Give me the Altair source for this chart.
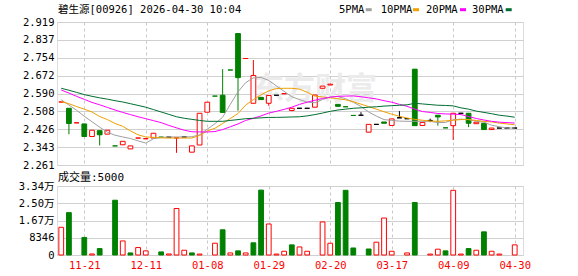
import altair as alt
import pandas as pd

# ---------------- data ----------------
title_text = "碧生源[00926] 2026-04-30 10:04"
vol_title = "成交量:5000"
watermark = "东方财富"

date_labels = ["11-21", "12-11", "01-08", "01-29", "02-20", "03-17", "04-09", "04-30"]
date_pos = [3, 11, 19, 27, 35, 43, 51, 59]

price_ticks = [2.261, 2.343, 2.426, 2.508, 2.590, 2.672, 2.754, 2.837, 2.919]
vol_ticks = [0, 8346, 16692, 25038, 33384]

opens = [2.551, 2.522, 2.455, 2.450, 2.392, 2.419, 2.403, 2.349, 2.354, 2.335,
         2.385, 2.382, 2.385, 2.389, 2.389, 2.386, 2.390, 2.320, 2.353, 2.504,
         2.578, 2.582, 2.698, 2.866, 2.751, 2.545, 2.572, 2.545, 2.582, 2.589,
         2.512, 2.522, 2.522, 2.527, 2.614, 2.629, 2.540, 2.529, 2.489, 2.490,
         2.412, 2.448, 2.459, 2.443, 2.478, 2.474, 2.702, 2.443, 2.466, 2.490,
         2.432, 2.442, 2.499, 2.499, 2.451, 2.453, 2.424, 2.431, 2.431, 2.431]
highs = [2.551, 2.522, 2.455, 2.450, 2.421, 2.419, 2.421, 2.349, 2.370, 2.349,
         2.385, 2.382, 2.407, 2.389, 2.389, 2.386, 2.390, 2.349, 2.499, 2.550,
         2.578, 2.702, 2.698, 2.866, 2.751, 2.744, 2.572, 2.581, 2.582, 2.589,
         2.522, 2.522, 2.522, 2.583, 2.624, 2.633, 2.540, 2.529, 2.489, 2.504,
         2.448, 2.448, 2.459, 2.473, 2.509, 2.474, 2.702, 2.457, 2.474, 2.490,
         2.432, 2.499, 2.499, 2.499, 2.458, 2.453, 2.431, 2.431, 2.431, 2.431]
lows = [2.551, 2.402, 2.455, 2.392, 2.392, 2.351, 2.403, 2.349, 2.354, 2.335,
        2.385, 2.382, 2.385, 2.389, 2.389, 2.317, 2.390, 2.320, 2.353, 2.504,
        2.578, 2.503, 2.698, 2.511, 2.751, 2.545, 2.562, 2.533, 2.582, 2.589,
        2.508, 2.522, 2.522, 2.527, 2.614, 2.629, 2.528, 2.529, 2.489, 2.490,
        2.412, 2.448, 2.453, 2.443, 2.478, 2.474, 2.442, 2.443, 2.458, 2.442,
        2.432, 2.376, 2.499, 2.435, 2.451, 2.424, 2.424, 2.431, 2.431, 2.431]
closes = [2.551, 2.452, 2.455, 2.392, 2.421, 2.400, 2.421, 2.349, 2.370, 2.349,
          2.385, 2.382, 2.407, 2.389, 2.389, 2.386, 2.390, 2.349, 2.499, 2.550,
          2.578, 2.503, 2.698, 2.663, 2.751, 2.673, 2.562, 2.581, 2.582, 2.589,
          2.522, 2.522, 2.522, 2.583, 2.624, 2.633, 2.531, 2.529, 2.489, 2.490,
          2.448, 2.448, 2.453, 2.473, 2.478, 2.474, 2.442, 2.457, 2.466, 2.482,
          2.432, 2.499, 2.499, 2.453, 2.458, 2.424, 2.431, 2.431, 2.431, 2.431]
kinds = ["fr", "dn", "fr", "dn", "up", "dn", "up", "fg", "up", "up",
         "fr", "fr", "up", "fg", "fk", "fr", "fk", "up", "up", "up",
         "fg", "dn", "fg", "dn", "fr", "up", "dn", "up", "fk", "fr",
         "up", "fk", "fk", "up", "up", "up", "dn", "fg", "fg", "fk",
         "up", "fk", "dn", "up", "fk", "fk", "dn", "up", "fk", "dn",
         "fg", "up", "fk", "dn", "up", "dn", "up", "fk", "fk", "fk"]

volumes = [13400, 20500, 0, 8500, 500, 3100, 0, 26500, 6800, 1000,
           3600, 2000, 0, 1500, 500, 22500, 2300, 1000, 450, 0,
           5700, 12200, 1000, 2000, 1000, 5900, 31400, 15000, 450, 1800,
           4900, 3900, 1800, 0, 16000, 5700, 25400, 31300, 3400, 0,
           2900, 6200, 17900, 1800, 0, 1000, 25400, 0, 450, 2800,
           2000, 31300, 450, 3100, 2300, 11200, 1800, 450, 0, 4900]
vol_kinds = ["up", "dn", "up", "dn", "up", "dn", "up", "dn", "up", "dn",
             "up", "up", "up", "dn", "up", "up", "up", "dn", "up", "up",
             "up", "dn", "up", "dn", "up", "dn", "dn", "up", "up", "up",
             "dn", "up", "up", "up", "up", "up", "dn", "dn", "dn", "up",
             "dn", "up", "up", "up", "up", "up", "dn", "up", "up", "up",
             "dn", "up", "up", "dn", "up", "dn", "up", "up", "up", "up"]

ma5 = [2.561, 2.537, 2.513, 2.485, 2.460, 2.435, 2.412, 2.398, 2.390, 2.383,
       2.372, 2.362, 2.382, 2.387, 2.390, 2.390, 2.390, 2.391, 2.400, 2.426,
       2.451, 2.481, 2.540, 2.598, 2.640, 2.662, 2.664, 2.650, 2.625, 2.600,
       2.575, 2.562, 2.550, 2.548, 2.562, 2.574, 2.576, 2.566, 2.550, 2.530,
       2.505, 2.486, 2.470, 2.466, 2.463, 2.462, 2.462, 2.462, 2.462, 2.456,
       2.457, 2.469, 2.472, 2.470, 2.462, 2.458, 2.444, 2.437, 2.431, 2.431]
ma10 = [2.553, 2.543, 2.530, 2.518, 2.505, 2.484, 2.470, 2.452, 2.439, 2.418,
        2.400, 2.390, 2.388, 2.386, 2.385, 2.385, 2.385, 2.385, 2.397, 2.418,
        2.430, 2.452, 2.475, 2.498, 2.537, 2.562, 2.584, 2.602, 2.613, 2.614,
        2.614, 2.610, 2.596, 2.578, 2.574, 2.570, 2.566, 2.561, 2.552, 2.541,
        2.530, 2.518, 2.506, 2.495, 2.485, 2.477, 2.471, 2.467, 2.463, 2.462,
        2.464, 2.467, 2.470, 2.470, 2.466, 2.462, 2.459, 2.454, 2.450, 2.446]
ma20 = [2.606, 2.592, 2.577, 2.563, 2.549, 2.538, 2.526, 2.514, 2.503, 2.493,
        2.483, 2.474, 2.465, 2.456, 2.443, 2.432, 2.421, 2.414, 2.413, 2.413,
        2.415, 2.424, 2.437, 2.450, 2.466, 2.476, 2.487, 2.500, 2.508, 2.517,
        2.527, 2.540, 2.550, 2.559, 2.567, 2.573, 2.577, 2.578, 2.579, 2.575,
        2.570, 2.565, 2.557, 2.550, 2.540, 2.531, 2.518, 2.507, 2.503, 2.498,
        2.496, 2.495, 2.493, 2.484, 2.475, 2.468, 2.462, 2.458, 2.456, 2.454]
ma30 = [2.614, 2.605, 2.595, 2.585, 2.577, 2.570, 2.564, 2.557, 2.551, 2.543,
        2.535, 2.527, 2.516, 2.505, 2.494, 2.483, 2.476, 2.471, 2.466, 2.462,
        2.462, 2.462, 2.466, 2.470, 2.474, 2.476, 2.478, 2.480, 2.480, 2.481,
        2.482, 2.483, 2.487, 2.493, 2.500, 2.508, 2.514, 2.518, 2.522, 2.524,
        2.527, 2.529, 2.532, 2.534, 2.536, 2.538, 2.545, 2.542, 2.539, 2.536,
        2.535, 2.533, 2.524, 2.518, 2.509, 2.503, 2.497, 2.490, 2.486, 2.481]
ma_names = ["5PMA", "10PMA", "20PMA", "30PMA"]

# ---------------- styles / layout ----------------
RED = "#ff0000"
GREEN = "#008000"
BLACK = "#000000"
MA_COLORS = ["#a0a0a0", "#f0a000", "#ff00ff", "#006e30"]
MONO = "DejaVu Sans Mono, Noto Sans CJK SC"
GRID = "#d0d0d0"
VGRID = "#c8c8c8"
W = 466
H_PRICE = 143
H_VOL = 69
HALF = 0.31

n = len(opens)
idx = list(range(n))
candles = pd.DataFrame({"i": idx, "open": opens, "high": highs, "low": lows,
                        "close": closes, "kind": kinds})
vol_df = pd.DataFrame({"i": idx, "vol": volumes, "kind": vol_kinds})
ma_df = pd.concat([pd.DataFrame({"i": idx, "value": v, "ma": name})
                   for v, name in zip([ma5, ma10, ma20, ma30], ma_names)])

x_scale = alt.Scale(domain=[-0.552, 60.08], nice=False, zero=False)
p_scale = alt.Scale(domain=[price_ticks[0], price_ticks[-1]], nice=False, zero=False)
v_scale = alt.Scale(domain=[vol_ticks[0], vol_ticks[-1]], nice=False, zero=False)

kind_dom = ["up", "dn", "fr", "fg", "fk"]
fill_scale = alt.Scale(domain=kind_dom, range=["#ffffff", GREEN, RED, GREEN, BLACK])
stroke_scale = alt.Scale(domain=kind_dom, range=[RED, GREEN, RED, GREEN, BLACK])

x_axis_price = alt.Axis(values=date_pos, labels=False, ticks=False, domain=False,
                        grid=True, gridDash=[3, 3], gridColor=VGRID, title=None)
y_axis_price = alt.Axis(values=price_ticks, format=".3f", grid=True, gridColor=GRID,
                        ticks=False, domain=False, labelPadding=3, labelFont=MONO,
                        labelFontSize=10.5, labelColor=BLACK, title=None)

label_expr = "{" + ",".join(f"'{p}':'{l}'" for p, l in zip(date_pos, date_labels)) + "}[datum.value]"
x_axis_vol = alt.Axis(values=date_pos, labelExpr=label_expr, ticks=False, domain=False,
                      grid=True, gridDash=[3, 3], gridColor=VGRID, title=None,
                      labelColor=RED, labelFont=MONO, labelFontSize=10.5,
                      labelPadding=5, labelFlush=False)
y_axis_vol = alt.Axis(values=vol_ticks,
                      labelExpr="datum.value >= 10000 ? format(datum.value/10000, '.2f') + '万' : format(datum.value, 'd')",
                      grid=True, gridColor=GRID, ticks=False, domain=False, labelPadding=3,
                      labelFont=MONO, labelFontSize=10.5, labelColor=BLACK, title=None)

# ---------------- price panel ----------------
wm = alt.Chart(pd.DataFrame({"t": [watermark]})).mark_text(
    font="Noto Sans CJK SC", fontSize=31, fontWeight="bold", color="#ebebeb",
    align="center", baseline="middle"
).encode(x=alt.value(258), y=alt.value(68), text="t:N")

wicks = alt.Chart(candles).mark_rule(strokeWidth=1).encode(
    x=alt.X("i:Q", scale=x_scale, axis=x_axis_price),
    y=alt.Y("low:Q", scale=p_scale, axis=y_axis_price),
    y2="high:Q",
    stroke=alt.Stroke("kind:N", scale=stroke_scale, legend=None),
)

bodies = alt.Chart(candles).transform_calculate(
    x0=f"datum.i - {HALF}", x1=f"datum.i + {HALF}"
).mark_rect(strokeWidth=1).encode(
    x=alt.X("x0:Q", scale=x_scale, axis=x_axis_price),
    x2="x1:Q",
    y=alt.Y("open:Q", scale=p_scale, axis=y_axis_price),
    y2="close:Q",
    fill=alt.Fill("kind:N", scale=fill_scale, legend=None),
    stroke=alt.Stroke("kind:N", scale=stroke_scale, legend=None),
)

lines = alt.Chart(ma_df).mark_line(strokeWidth=1).encode(
    x=alt.X("i:Q", scale=x_scale, axis=x_axis_price),
    y=alt.Y("value:Q", scale=p_scale, axis=y_axis_price),
    color=alt.Color("ma:N", scale=alt.Scale(domain=ma_names, range=MA_COLORS), legend=None),
    detail="ma:N",
)

head = alt.Chart(pd.DataFrame({"t": [title_text]})).mark_text(
    font=MONO, fontSize=10.5, color=BLACK, align="left", baseline="middle"
).encode(x=alt.value(1), y=alt.value(-12.4), text="t:N")

LEG_TEXT_X = [282, 323.7, 369, 415]
LEG_MARK_X = [308.7, 356, 403, 448.7]
legend_layers = []
for name, col, tx, mx in zip(ma_names, MA_COLORS, LEG_TEXT_X, LEG_MARK_X):
    d = pd.DataFrame({"t": [name]})
    legend_layers.append(alt.Chart(d).mark_text(
        font=MONO, fontSize=10.5, color=BLACK, align="left", baseline="middle"
    ).encode(x=alt.value(tx), y=alt.value(-12.4), text="t:N"))
    legend_layers.append(alt.Chart(d).mark_rect(color=col).encode(
        x=alt.value(mx), x2=alt.value(mx + 6), y=alt.value(-13.8), y2=alt.value(-10.8)))

price = alt.layer(wm, wicks, bodies, lines, head, *legend_layers).properties(
    width=W, height=H_PRICE)

# ---------------- volume panel ----------------
vbars = alt.Chart(vol_df).transform_filter("datum.vol > 0").transform_calculate(
    x0=f"datum.i - {HALF}", x1=f"datum.i + {HALF}"
).mark_rect(strokeWidth=1).encode(
    x=alt.X("x0:Q", scale=x_scale, axis=x_axis_vol),
    x2="x1:Q",
    y=alt.Y("vol:Q", scale=v_scale, axis=y_axis_vol),
    y2=alt.datum(0),
    fill=alt.Fill("kind:N", scale=alt.Scale(domain=["up", "dn"], range=["#ffffff", GREEN]), legend=None),
    stroke=alt.Stroke("kind:N", scale=alt.Scale(domain=["up", "dn"], range=[RED, GREEN]), legend=None),
)

vhead = alt.Chart(pd.DataFrame({"t": [vol_title]})).mark_text(
    font=MONO, fontSize=11, color=BLACK, align="left", baseline="middle"
).encode(x=alt.value(1), y=alt.value(-8), text="t:N")

volume = alt.layer(vbars, vhead).properties(width=W, height=H_VOL)

chart = alt.vconcat(price, volume, spacing=21, bounds="flush").properties(
    padding={"left": 17, "top": 4, "right": 5, "bottom": 2}
).configure_view(stroke="#9a9a9a", strokeWidth=1.5).configure(background="#ffffff")

chart.save("out.html", embed_options={"renderer": "svg", "actions": False})
